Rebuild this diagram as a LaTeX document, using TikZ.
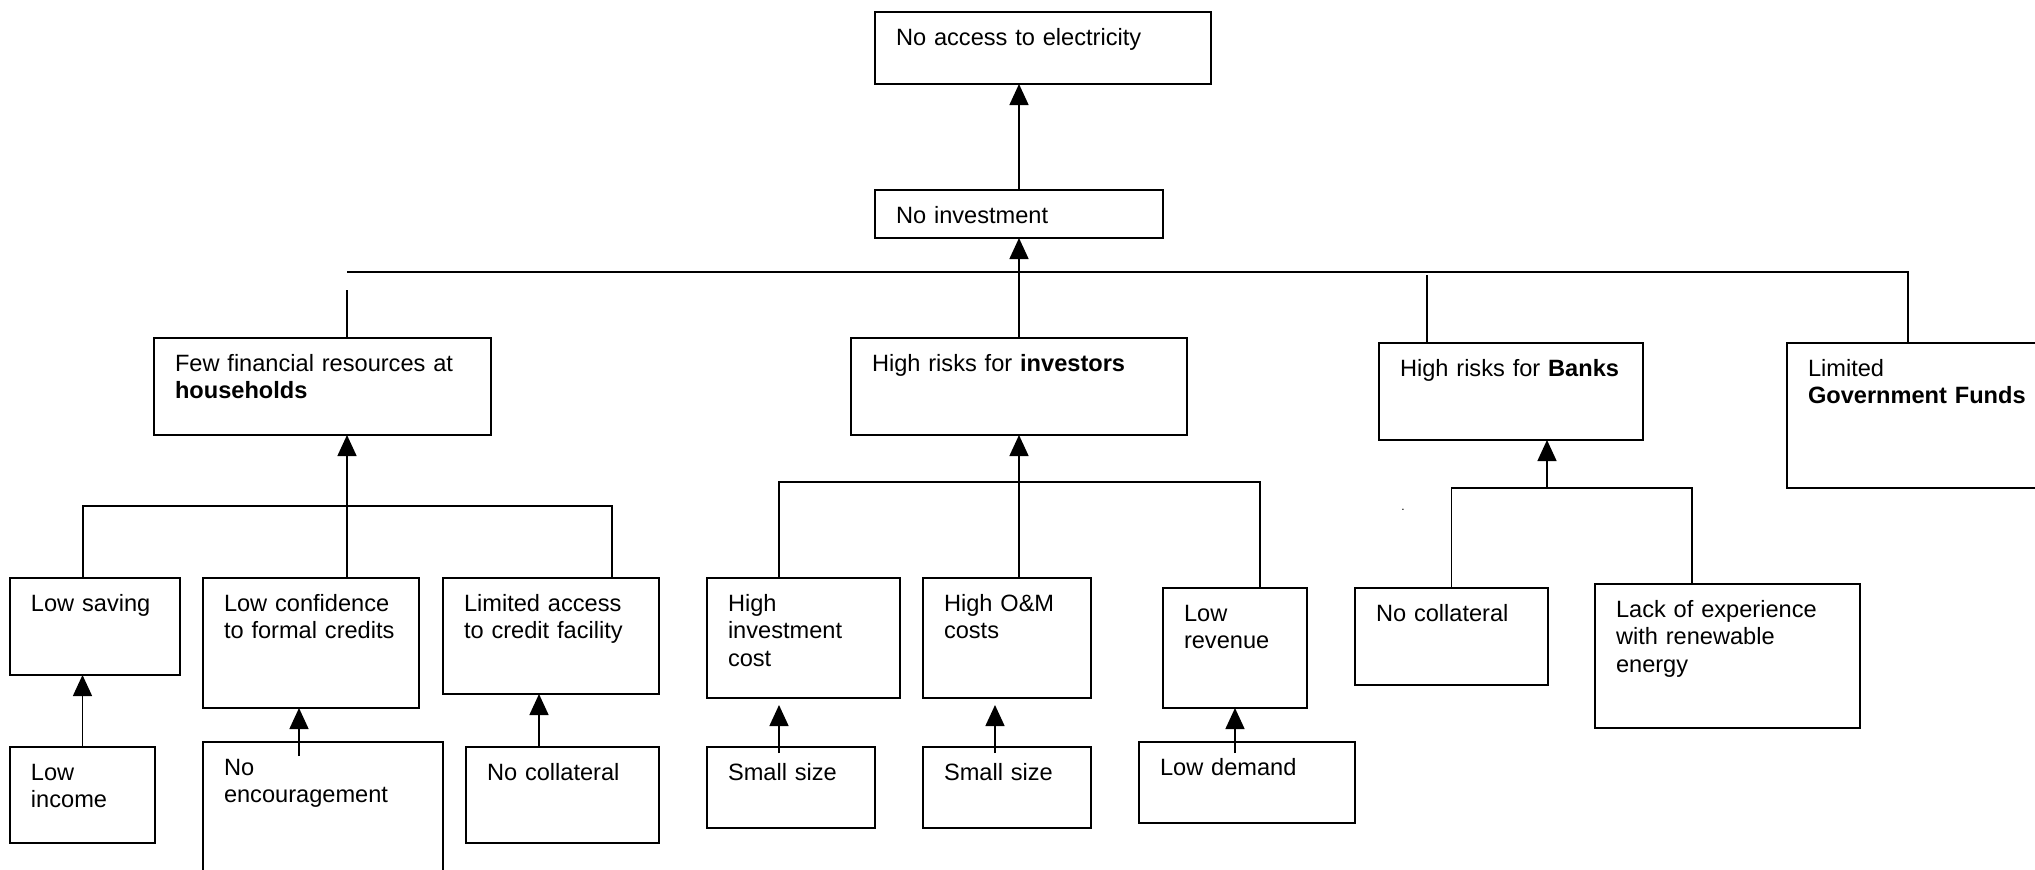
\documentclass[tikz,border=0pt]{standalone}
\usepackage{fontspec}
\setmainfont{Liberation Sans}
\usetikzlibrary{arrows.meta}

\tikzset{
  cbox/.style={draw, line width=0.9pt, anchor=north west, outer sep=0pt,
    align=left, inner xsep=10.5pt, inner ysep=0pt, text height=16.5pt,
    font=\fontsize{11.8}{13.8}\selectfont},
  boxsize/.code 2 args={%
    \pgfmathsetlengthmacro\boxw{#1*0.5pt-21pt}%
    \pgfmathsetlengthmacro\boxd{#2*0.5pt-16.5pt}%
    \tikzset{text width=\boxw, text depth=\boxd}},
  link/.style={line width=0.75pt},
  arr/.style={line width=0.75pt, -{Triangle[length=10.5pt,width=9.5pt]}},
}

\begin{document}
\begin{tikzpicture}[x=0.5pt, y=-0.5pt]
    \useasboundingbox (0,0) rectangle (2035,869);
    \clip (0,0) rectangle (2035,869);

    % Top of the tree
    \node[cbox, boxsize={336}{72}] (access) at (875,12) {No access to electricity};
    \node[cbox, boxsize={288}{48}] (noinv) at (875,190) {No investment};
    \draw[arr] (noinv.north) -- (noinv.north |- access.south);

    % Second level
    \node[cbox, boxsize={337}{97}] (hh) at (154,338) {Few financial resources at\\\textbf{households}};
    \node[cbox, boxsize={336}{97}] (invest) at (851,338) {High risks for \textbf{investors}};
    \node[cbox, boxsize={264}{97}] (banks) at (1379,343) {High~risks~for~\textbf{Banks}};
    \node[cbox, boxsize={273}{145}] (gov) at (1787,343) {Limited\\\textbf{Government Funds}};

    \coordinate (barL) at (347,272);
    \coordinate (barR) at (1908,272);
    \coordinate (stubL) at (347,290);
    \coordinate (stubB) at (1427,275);
    \draw[link] (barL) -- (barR) -- (barR |- gov.north);
    \draw[link] (stubL) -- (stubL |- hh.north);
    \draw[link] (stubB) -- (stubB |- banks.north);
    \draw[arr] (invest.north) -- (invest.north |- noinv.south);

    % Households branch
    \node[cbox, boxsize={170}{97}] (lowsav) at (10,578) {Low saving};
    \node[cbox, boxsize={216}{130}] (lowconf) at (203,578) {Low confidence\\to formal credits};
    \node[cbox, boxsize={216}{116}] (limacc) at (443,578) {Limited access\\to credit facility};
    \node[cbox, boxsize={145}{96}] (lowinc) at (10,747) {Low\\income};
    \node[cbox, boxsize={240}{150}] (noenc) at (203,742) {No\\encouragement};
    \node[cbox, boxsize={193}{96}] (nocolA) at (466,747) {No collateral};

    \coordinate (hbarL) at (83,506);
    \coordinate (hbarR) at (612,506);
    \draw[link] (hbarL |- lowsav.north) -- (hbarL) -- (hbarR) -- (hbarR |- limacc.north);
    \draw[arr] (stubL |- lowconf.north) -- (stubL |- hh.south);

    \coordinate (tailA) at (299,756);
    \coordinate (tailB) at (539,747);
    \draw[arr] (lowinc.north) -- (lowinc.north |- lowsav.south);
    \draw[arr] (tailA) -- (tailA |- lowconf.south);
    \draw[arr] (tailB) -- (tailB |- limacc.south);

    % Investors branch
    \node[cbox, boxsize={193}{120}] (hinv) at (707,578) {High\\investment\\cost};
    \node[cbox, boxsize={168}{120}] (hom) at (923,578) {High O\&M\\costs};
    \node[cbox, boxsize={144}{120}] (lowrev) at (1163,588) {Low\\revenue};
    \node[cbox, boxsize={168}{81}] (smallA) at (707,747) {Small size};
    \node[cbox, boxsize={168}{81}] (smallB) at (923,747) {Small size};
    \node[cbox, boxsize={216}{81}] (lowdem) at (1139,742) {Low demand};

    \coordinate (ibarL) at (779,482);
    \coordinate (ibarR) at (1260,482);
    \draw[link] (ibarL |- hinv.north) -- (ibarL) -- (ibarR) -- (ibarR |- lowrev.north);
    \draw[arr] (invest.south |- hom.north) -- (invest.south);

    \coordinate (tailC) at (779,753);
    \coordinate (tailD) at (995,753);
    \coordinate (tailE) at (1235,753);
    \draw[arr, shorten >=3.5pt] (tailC) -- (tailC |- hinv.south);
    \draw[arr, shorten >=3.5pt] (tailD) -- (tailD |- hom.south);
    \draw[arr] (tailE) -- (lowrev.south);

    % Banks branch
    \node[cbox, boxsize={193}{97}] (nocolB) at (1355,588) {No collateral};
    \node[cbox, boxsize={265}{144}] (lack) at (1595,584) {Lack of experience\\with renewable\\energy};
    \node[font=\fontsize{6}{6}\selectfont, inner sep=0pt] (dot) at (1403,510) {.};

    \coordinate (bbarM) at (1547,488);
    \coordinate (bbarR) at (1692,488);
    \draw[link] (nocolB.north) |- (bbarR) -- (bbarR |- lack.north);
    \draw[arr] (bbarM) -- (bbarM |- banks.south);
\end{tikzpicture}
\end{document}
